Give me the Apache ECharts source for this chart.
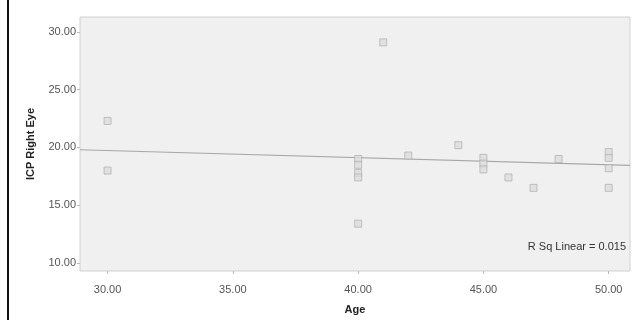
<!DOCTYPE html>
<html>
<head>
<meta charset="utf-8">
<script src="https://cdn.jsdelivr.net/npm/echarts@6/dist/echarts.min.js"></script>
<style>html,body{margin:0;padding:0;background:#fff}#c{width:640px;height:320px}</style>
</head>
<body>
<div id="c"></div>
<script>
var ages = [30, 30, 40, 40, 40, 40, 40, 41, 42, 44, 45, 45, 45, 46, 47, 48, 50, 50, 50, 50];
var icp = [22.3, 18.0, 19.0, 18.5, 17.8, 17.4, 13.4, 29.1, 19.3, 20.2, 19.1, 18.6, 18.1, 17.4, 16.5, 19.0, 19.6, 19.1, 18.2, 16.5];
var fitX = [28.9, 50.85];
var fitY = [19.8, 18.45];
var xTicks = [30, 35, 40, 45, 50];
var yTicks = [10, 15, 20, 25, 30];
var rSqText = 'R Sq Linear = 0.015';

var pts = ages.map(function (a, i) { return [a, icp[i]]; });
var fit = fitX.map(function (x, i) { return [x, fitY[i]]; });

var chart = echarts.init(document.getElementById('c'), null, {renderer: 'canvas'});
var FF = 'Liberation Sans, Arial, sans-serif';
var lblStyle = {color: '#555', fontSize: 11, fontFamily: FF};
chart.setOption({
  animation: false,
  backgroundColor: '#fff',
  grid: {left: 80, right: 10, top: 17, bottom: 46, show: true, backgroundColor: '#f0f0f0', borderColor: '#d0d0d0', borderWidth: 1},
  xAxis: {
    type: 'value', min: 28.9, max: 50.85,
    name: 'Age', nameLocation: 'middle', nameGap: 33,
    nameTextStyle: {color: '#222', fontSize: 11, fontWeight: 'bold', fontFamily: FF},
    axisLine: {show: false},
    splitLine: {show: false},
    axisTick: {show: true, customValues: xTicks, length: 3, lineStyle: {color: '#bbb'}},
    axisLabel: Object.assign({customValues: xTicks, margin: 13, formatter: function (v) { return v.toFixed(2); }}, lblStyle)
  },
  yAxis: {
    type: 'value', min: 9.3, max: 31.3,
    name: 'ICP Right Eye', nameLocation: 'middle', nameGap: 44, nameRotate: 90,
    nameTextStyle: {color: '#222', fontSize: 11, fontWeight: 'bold', fontFamily: FF},
    axisLine: {show: false},
    splitLine: {show: false},
    axisTick: {show: true, customValues: yTicks, length: 3, lineStyle: {color: '#bbb'}},
    axisLabel: Object.assign({customValues: yTicks, margin: 4, formatter: function (v) { return v.toFixed(2); }}, lblStyle)
  },
  series: [
    {
      type: 'line', data: fit, symbol: 'none', silent: true,
      lineStyle: {color: '#a8a8a8', width: 1.2}, z: 2
    },
    {
      type: 'scatter', data: pts, symbol: 'rect', symbolSize: 7,
      itemStyle: {color: '#dcdcdc', borderColor: '#b4b4b4', borderWidth: 1}, z: 3
    }
  ],
  graphic: [
    {type: 'rect', shape: {x: 7, y: 0, width: 2, height: 320}, style: {fill: '#111'}},
    {type: 'text', right: 14, top: 241, style: {text: rSqText, fill: '#333', fontSize: 11, fontFamily: FF}}
  ]
});
</script>
</body>
</html>
